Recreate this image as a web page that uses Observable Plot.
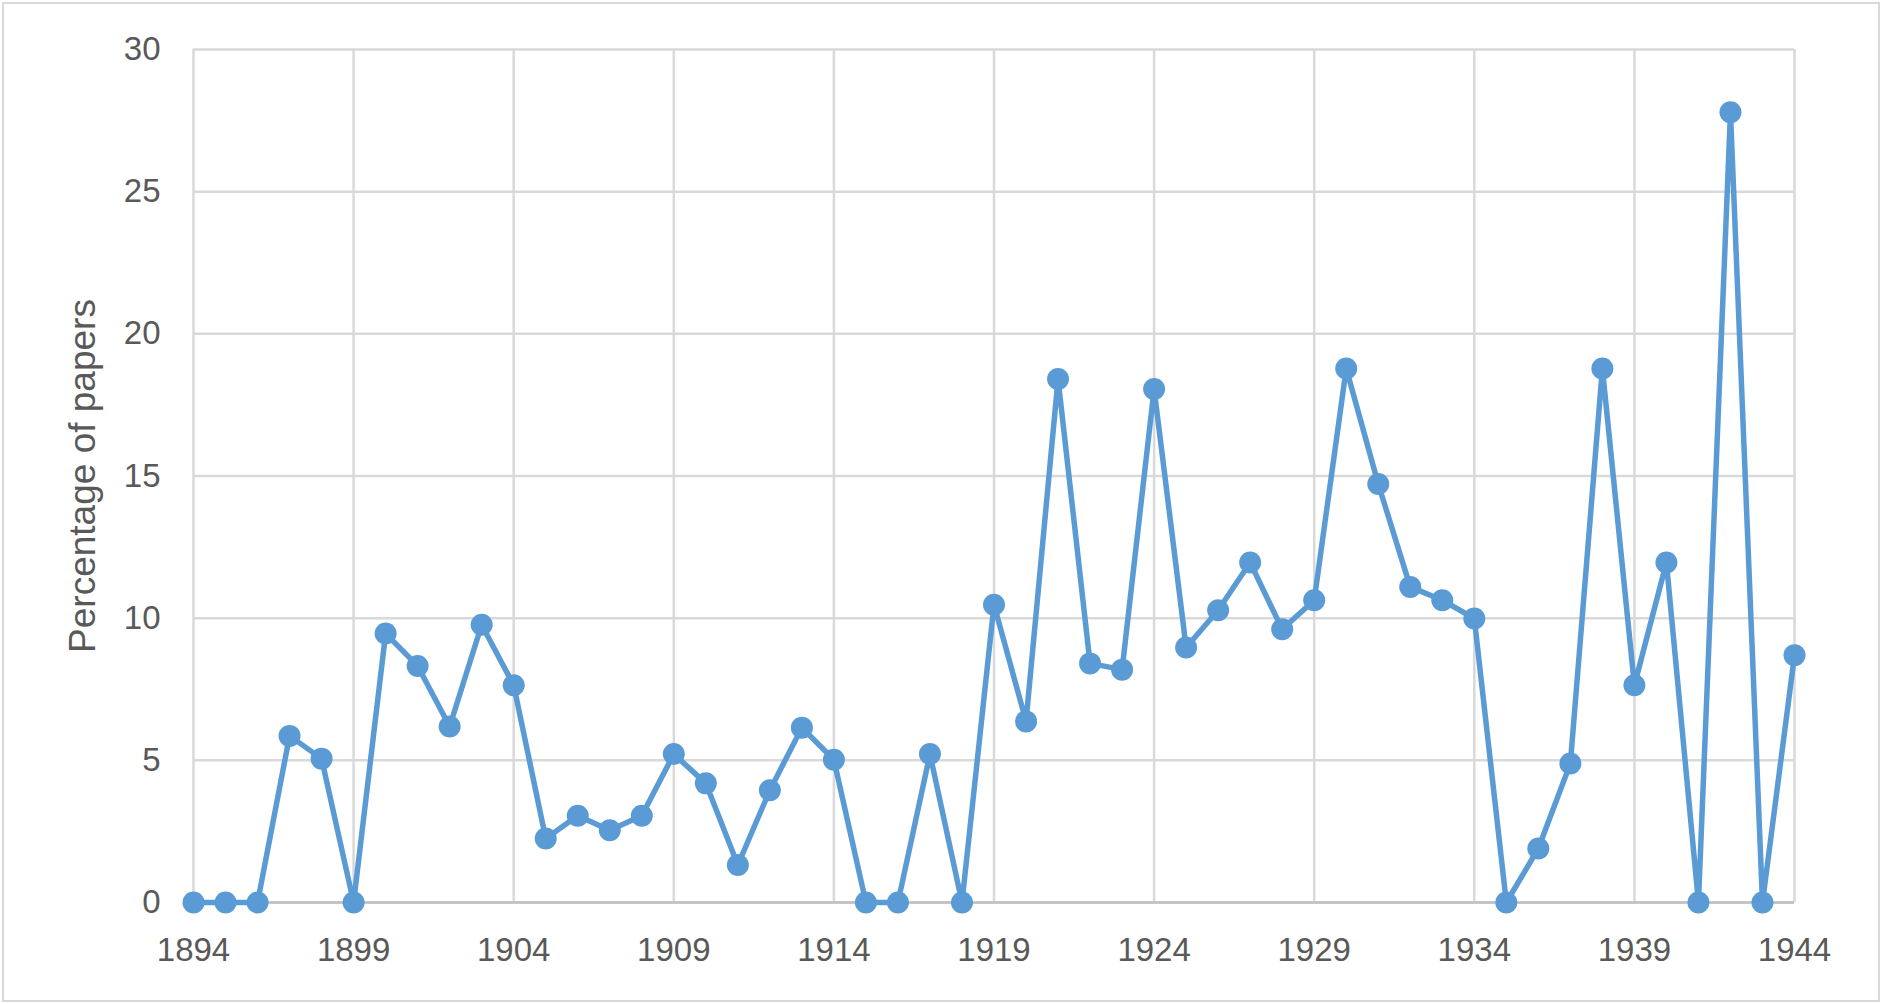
<!DOCTYPE html>
<html>
<head>
<meta charset="utf-8">
<script src="https://cdn.jsdelivr.net/npm/d3@7"></script>
<script src="https://cdn.jsdelivr.net/npm/@observablehq/plot@0.6"></script>
<style>
  html, body { margin: 0; padding: 0; background: #fff; }
  #wrap { position: relative; width: 1882px; height: 1004px; }
  #border { position: absolute; left: 2px; top: 2px; width: 1874px; height: 996px; border: 2px solid #d9d9d9; pointer-events: none; }
</style>
</head>
<body>
<div id="wrap"><div id="chart"></div><div id="border"></div></div>
<script>
const years = d3.range(1894, 1945);
const values = [
  0, 0, 0, 5.86, 5.06, 0, 9.46, 8.32, 6.19, 9.77,
  7.64, 2.25, 3.05, 2.54, 3.05, 5.22, 4.19, 1.32, 3.95, 6.15,
  5.02, 0, 0, 5.22, 0, 10.47, 6.37, 18.41, 8.41, 8.19,
  18.06, 8.97, 10.28, 11.96, 9.61, 10.63, 18.78, 14.72, 11.10, 10.63,
  9.99, 0, 1.90, 4.89, 18.78, 7.64, 11.96, 0, 27.79, 0,
  8.70
];
const xTicks = [1894, 1899, 1904, 1909, 1914, 1919, 1924, 1929, 1934, 1939, 1944];
const yTicks = [0, 5, 10, 15, 20, 25, 30];
const yLabel = "Percentage of papers";

const data = years.map((year, i) => ({year, value: values[i]}));

const chart = Plot.plot({
  width: 1882,
  height: 1004,
  marginLeft: 193,
  marginRight: 88,
  marginTop: 49,
  marginBottom: 102,
  style: {fontFamily: "'Liberation Sans', Arial, sans-serif", fontSize: "33px", color: "#595959", background: "#fff"},
  x: {domain: [1894, 1944]},
  y: {domain: [0, 30]},
  marks: [
    Plot.gridY(yTicks, {stroke: "#d9d9d9", strokeOpacity: 1, strokeWidth: 2.5}),
    Plot.gridX(xTicks, {stroke: "#d9d9d9", strokeOpacity: 1, strokeWidth: 2.5}),
    Plot.ruleY([0], {stroke: "#bfbfbf", strokeWidth: 2.5}),
    Plot.line(data, {x: "year", y: "value", stroke: "#5B9BD5", strokeWidth: 5.5}),
    Plot.dot(data, {x: "year", y: "value", r: 11, fill: "#5B9BD5"}),
    Plot.axisY(yTicks, {tickSize: 0, tickPadding: 33, label: null, fontSize: 33}),
    Plot.axisX(xTicks, {tickSize: 0, tickPadding: 35, label: null, tickFormat: d => String(d), fontSize: 33}),
    Plot.text([yLabel], {frameAnchor: "left", textAnchor: "middle", rotate: -90, dx: -110, fontSize: 37, fill: "#595959"})
  ]
});
document.getElementById("chart").append(chart);
</script>
</body>
</html>
